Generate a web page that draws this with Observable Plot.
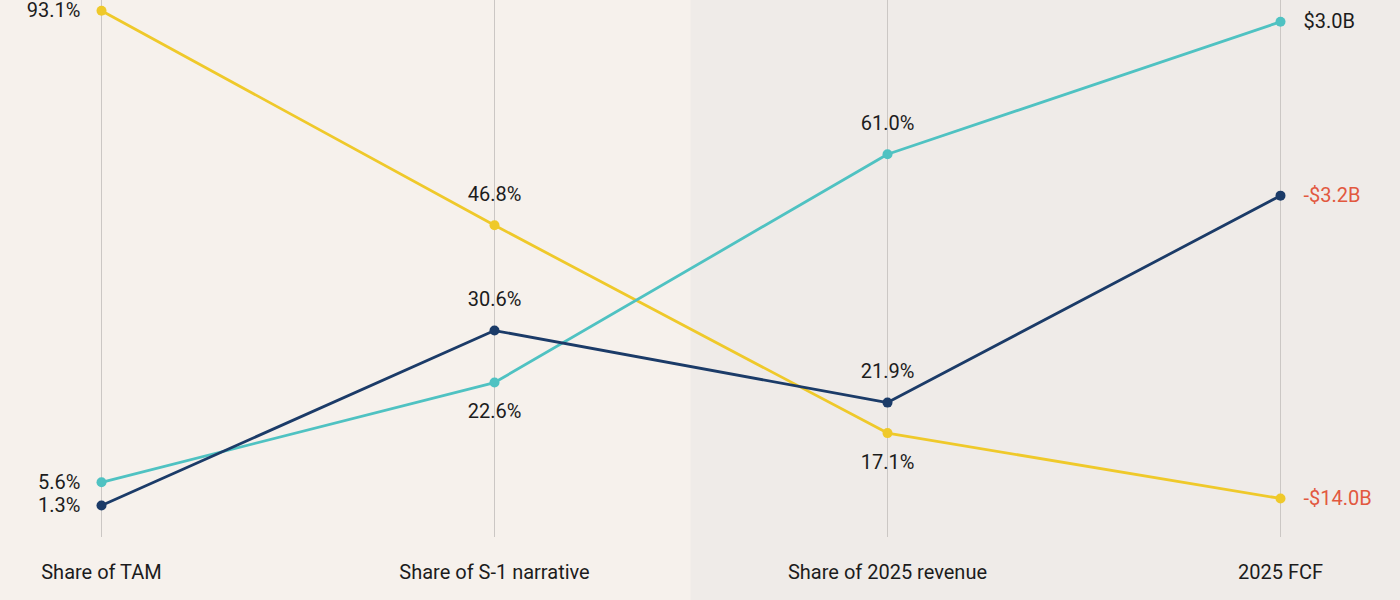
<!DOCTYPE html>
<html>
<head>
<meta charset="utf-8">
<script src="https://cdn.jsdelivr.net/npm/d3@7"></script>
<script src="https://cdn.jsdelivr.net/npm/@observablehq/plot@0.6"></script>
<style>
  html, body { margin: 0; padding: 0; background: #f6f1ec; }
  #chart svg { display: block; }
</style>
</head>
<body>
<div id="chart"></div>
<script>
// Column categories (x axis)
const columns = ["Share of TAM", "Share of S-1 narrative", "Share of 2025 revenue", "2025 FCF"];

// Series values, one per column (first three in %, last in $B)
const goldValues = [93.1, 46.8, 17.1, -14.0];
const tealValues = [5.6, 22.6, 61.0, 3.0];
const navyValues = [1.3, 30.6, 21.9, -3.2];

const seriesNames = ["gold", "teal", "navy"];
const seriesValues = [goldValues, tealValues, navyValues];

// Each column has its own vertical axis (parallel-coordinates style)
const columnDomains = [[0, 95], [2.6, 81.4], [4.6, 85.2], [-14.5, 3.76]];
const columnUnits = ["%", "%", "%", "$B"];

const seriesColors = { gold: "#efc92a", teal: "#4fc2c2", navy: "#1b3b68" };
const ink = "#1c1c1c";
const negativeInk = "#e2583f";

const columnScales = columnDomains.map(d => d3.scaleLinear(d, [0, 1]));

const rows = [];
seriesNames.forEach((name, s) => {
  seriesValues[s].forEach((v, i) => {
    rows.push({
      series: name,
      color: seriesColors[name],
      column: columns[i],
      index: i,
      value: v,
      pos: columnScales[i](v)
    });
  });
});

const fmt = d => columnUnits[d.index] === "%"
  ? `${d.value.toFixed(1)}%`
  : `${d.value < 0 ? "-" : ""}$${Math.abs(d.value).toFixed(1)}B`;
const labelFill = d => (columnUnits[d.index] === "$B" && d.value < 0) ? negativeInk : ink;

const columnMin = columns.map((c, i) => d3.min(rows.filter(r => r.index === i), r => r.value));
const isLowest = d => d.value === columnMin[d.index];

// Shaded panel behind the two right-hand columns
function rightPanel(index, scales, values, dimensions) {
  const x0 = (scales.x(columns[1]) + scales.x(columns[2])) / 2;
  return d3.create("svg:rect")
    .attr("x", x0)
    .attr("y", 0)
    .attr("width", dimensions.width - x0)
    .attr("height", dimensions.height)
    .attr("fill", "#efebe8")
    .node();
}

const middle = rows.filter(d => d.index === 1 || d.index === 2);
const fs = 20;

const chart = Plot.plot({
  width: 1400,
  height: 600,
  marginTop: 0,
  marginBottom: 63,
  marginLeft: 100,
  marginRight: 119,
  style: { background: "#f6f1ec", fontFamily: "Roboto, sans-serif", fontSize: "20px", color: ink },
  x: { domain: columns, padding: 0 },
  y: { domain: [0, 1], range: [512, 0], axis: null },
  color: { type: "identity" },
  marks: [
    rightPanel,
    Plot.ruleX(columns, { stroke: "#cbc7c4", strokeWidth: 1 }),
    Plot.line(rows, { x: "column", y: "pos", z: "series", stroke: "color", strokeWidth: 2.8 }),
    Plot.dot(rows, { x: "column", y: "pos", fill: "color", r: 5 }),
    // first column: labels to the left
    Plot.text(rows.filter(d => d.index === 0), {
      x: "column", y: "pos", text: fmt, fill: labelFill,
      textAnchor: "end", dx: -21, fontSize: fs
    }),
    // last column: labels to the right
    Plot.text(rows.filter(d => d.index === 3), {
      x: "column", y: "pos", text: fmt, fill: labelFill,
      textAnchor: "start", dx: 23, fontSize: fs
    }),
    // middle columns: above the point, or below for the lowest
    Plot.text(middle.filter(d => !isLowest(d)), {
      x: "column", y: "pos", text: fmt, fill: labelFill, dy: -31, fontSize: fs
    }),
    Plot.text(middle.filter(d => isLowest(d)), {
      x: "column", y: "pos", text: fmt, fill: labelFill, dy: 29, fontSize: fs
    }),
    Plot.axisX({ tickSize: 0, tickPadding: 27, fontSize: fs, label: null, fill: ink })
  ]
});

document.getElementById("chart").appendChild(chart);
</script>
</body>
</html>
